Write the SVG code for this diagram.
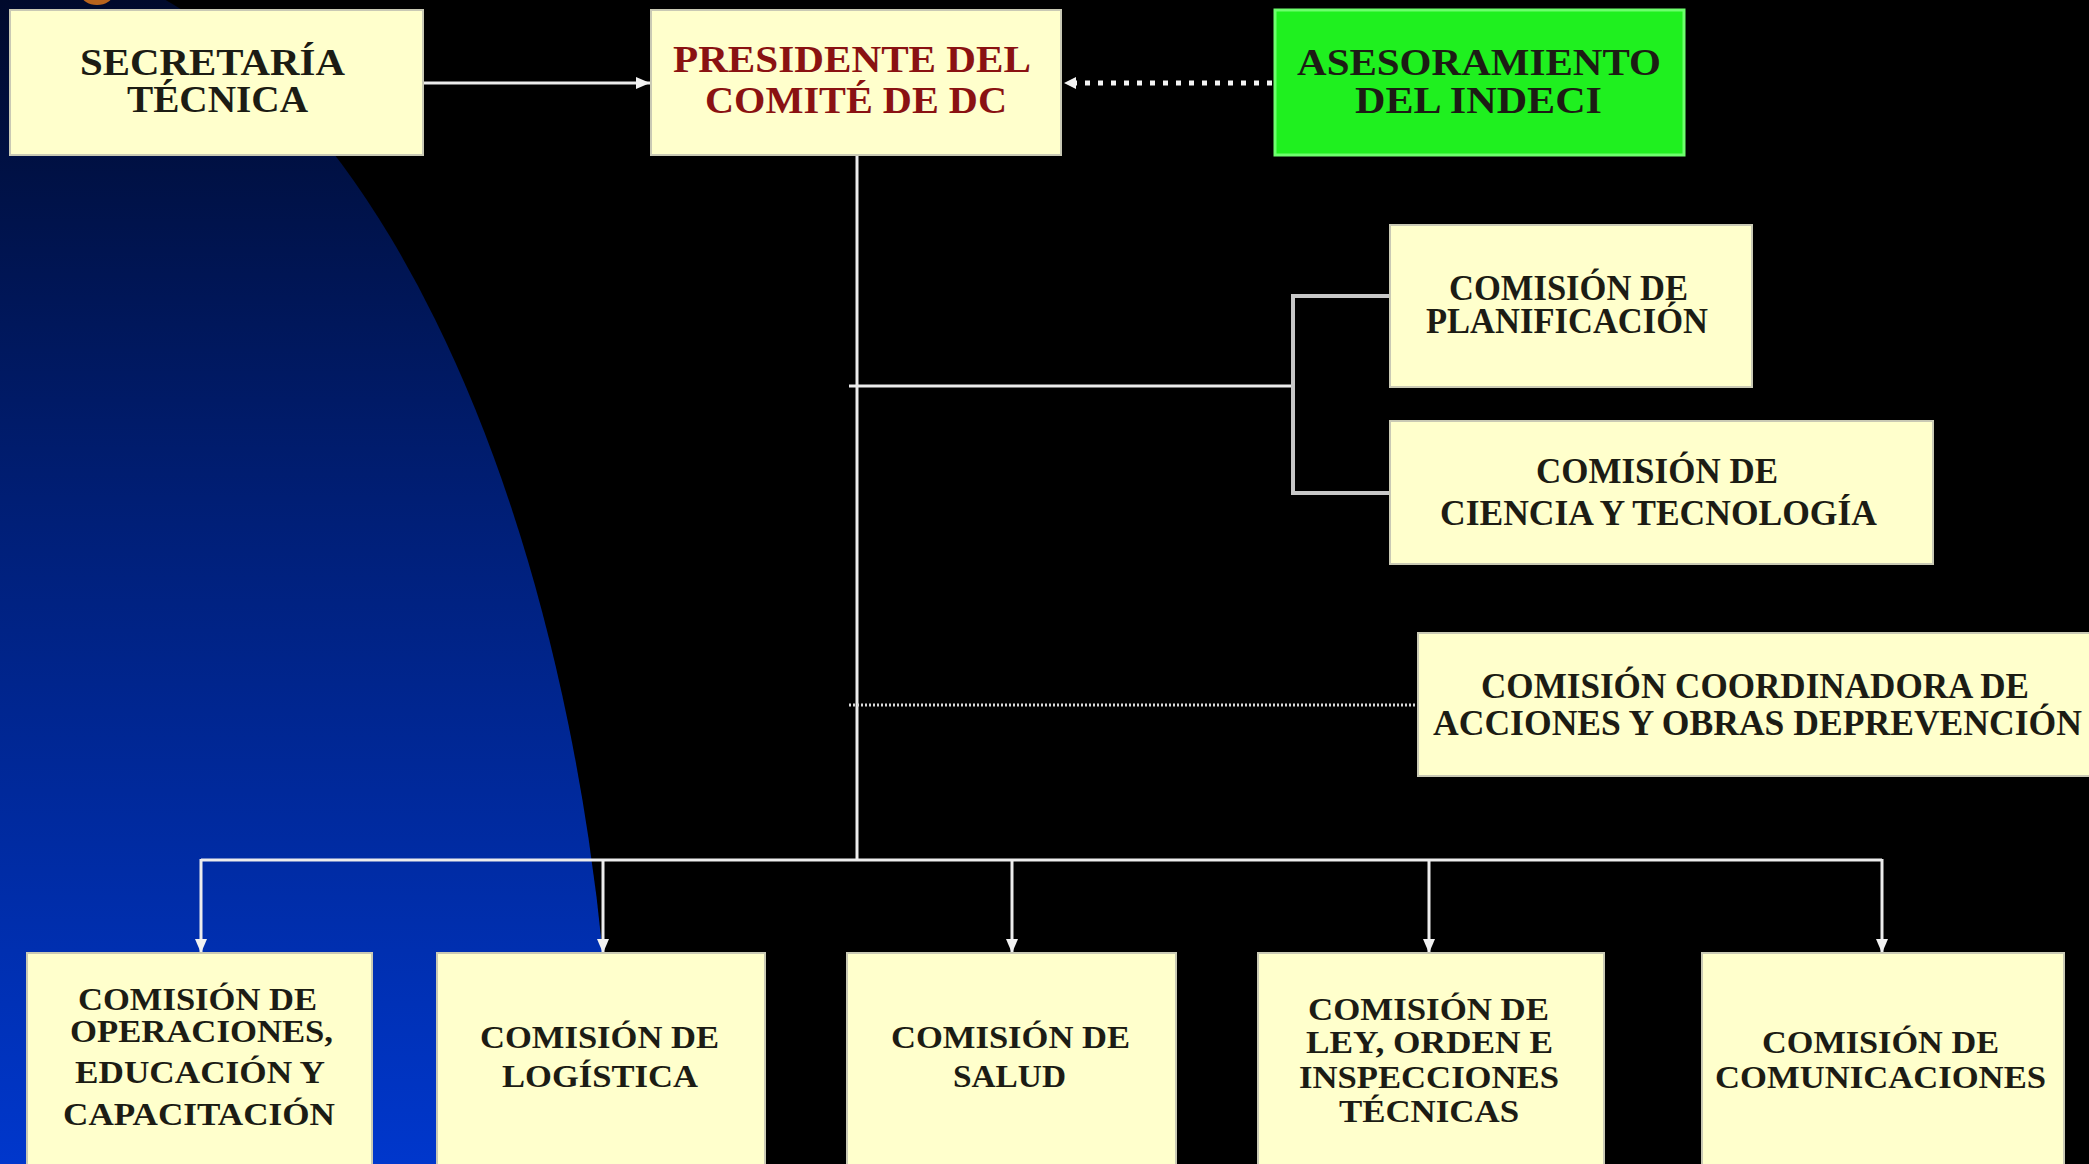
<svg xmlns="http://www.w3.org/2000/svg" width="2089" height="1164" viewBox="0 0 2089 1164">
<defs>
<linearGradient id="blue" x1="0" y1="0" x2="0" y2="1164" gradientUnits="userSpaceOnUse">
<stop offset="0" stop-color="#000a2c"/>
<stop offset="0.45" stop-color="#001f78"/>
<stop offset="1" stop-color="#0037cc"/>
</linearGradient>
<marker id="arr" viewBox="0 0 14 12" refX="14" refY="6" markerWidth="14" markerHeight="12" markerUnits="userSpaceOnUse" orient="auto">
<path d="M0,0 L14,6 L0,12 Z" fill="#f2f2f2"/>
</marker>
<marker id="arrs" viewBox="0 0 12 12" refX="12" refY="6" markerWidth="12" markerHeight="12" markerUnits="userSpaceOnUse" orient="auto">
<path d="M0,0 L12,6 L0,12 Z" fill="#f2f2f2"/>
</marker>
<style>
.box{fill:#ffffcc;stroke:#c9c9b4;stroke-width:2}
.green{fill:#1ff01f;stroke:#6dff6d;stroke-width:3}
.t{font-family:"Liberation Serif","Times New Roman",serif;font-weight:bold;fill:#1c1c14}
.t38{font-size:38px}
.t35{font-size:35px}
.t32{font-size:32px}
.red{fill:#8a1212}
.ln{stroke:#ececec;stroke-width:3;fill:none}
.br{stroke:#c8c8c8;stroke-width:4;fill:none}
.dots{stroke:#f4f4f4;stroke-width:5;fill:none;stroke-dasharray:5 8}
.fine{stroke:#d8d8d8;stroke-width:3;fill:none;stroke-dasharray:2 2}
</style>
</defs>
<rect x="0" y="0" width="2089" height="1164" fill="#000000"/>
<ellipse cx="0" cy="1200" rx="615" ry="1246" fill="url(#blue)"/>
<ellipse cx="97" cy="-6" rx="16" ry="11" fill="#b8641c"/>

<g id="connectors">
<line class="ln" x1="423" y1="83" x2="650" y2="83" marker-end="url(#arr)"/>
<line class="dots" x1="1272" y1="83" x2="1064" y2="83" marker-end="url(#arrs)"/>
<line class="ln" x1="857" y1="155" x2="857" y2="861"/>
<line class="ln" x1="849" y1="386" x2="1293" y2="386"/>
<path class="br" d="M1390,296 H1293 V493 H1390"/>
<line class="fine" x1="849" y1="705" x2="1418" y2="705"/>
<line class="ln" x1="201" y1="860" x2="1882" y2="860"/>
<line class="ln" x1="201" y1="859" x2="201" y2="953" marker-end="url(#arr)"/>
<line class="ln" x1="603" y1="859" x2="603" y2="953" marker-end="url(#arr)"/>
<line class="ln" x1="1012" y1="859" x2="1012" y2="953" marker-end="url(#arr)"/>
<line class="ln" x1="1429" y1="859" x2="1429" y2="953" marker-end="url(#arr)"/>
<line class="ln" x1="1882" y1="859" x2="1882" y2="953" marker-end="url(#arr)"/>
</g>

<g id="secretaria">
<rect class="box" x="10" y="10" width="413" height="145"/>
<text class="t t38" x="80" y="75" textLength="265" lengthAdjust="spacingAndGlyphs">SECRETARÍA</text>
<text class="t t38" x="127" y="112" textLength="181" lengthAdjust="spacingAndGlyphs">TÉCNICA</text>
</g>

<g id="presidente">
<rect class="box" x="651" y="10" width="410" height="145"/>
<text class="t t38 red" x="673" y="72" textLength="358" lengthAdjust="spacingAndGlyphs">PRESIDENTE DEL</text>
<text class="t t38 red" x="705" y="113" textLength="302" lengthAdjust="spacingAndGlyphs">COMITÉ DE DC</text>
</g>

<g id="asesoramiento">
<rect class="green" x="1275" y="10" width="409" height="145"/>
<text class="t t38" x="1297" y="75" textLength="364" lengthAdjust="spacingAndGlyphs">ASESORAMIENTO</text>
<text class="t t38" x="1355" y="113" textLength="247" lengthAdjust="spacingAndGlyphs">DEL INDECI</text>
</g>

<g id="planificacion">
<rect class="box" x="1390" y="225" width="362" height="162"/>
<text class="t t35" x="1449" y="300" textLength="239" lengthAdjust="spacingAndGlyphs">COMISIÓN DE</text>
<text class="t t35" x="1426" y="333" textLength="282" lengthAdjust="spacingAndGlyphs">PLANIFICACIÓN</text>
</g>

<g id="ciencia">
<rect class="box" x="1390" y="421" width="543" height="143"/>
<text class="t t35" x="1536" y="483" textLength="242" lengthAdjust="spacingAndGlyphs">COMISIÓN DE</text>
<text class="t t35" x="1440" y="525" textLength="437" lengthAdjust="spacingAndGlyphs">CIENCIA Y TECNOLOGÍA</text>
</g>

<g id="coordinadora">
<rect class="box" x="1418" y="633" width="680" height="143"/>
<text class="t t35" x="1481" y="698" textLength="548" lengthAdjust="spacingAndGlyphs">COMISIÓN COORDINADORA DE</text>
<text class="t t35" x="1433" y="735" textLength="649" lengthAdjust="spacingAndGlyphs">ACCIONES Y OBRAS DEPREVENCIÓN</text>
</g>

<g id="operaciones">
<rect class="box" x="27" y="953" width="345" height="220"/>
<text class="t t32" x="78" y="1010" textLength="239" lengthAdjust="spacingAndGlyphs">COMISIÓN DE</text>
<text class="t t32" x="70" y="1042" textLength="263" lengthAdjust="spacingAndGlyphs">OPERACIONES,</text>
<text class="t t32" x="75" y="1083" textLength="250" lengthAdjust="spacingAndGlyphs">EDUCACIÓN Y</text>
<text class="t t32" x="63" y="1125" textLength="272" lengthAdjust="spacingAndGlyphs">CAPACITACIÓN</text>
</g>

<g id="logistica">
<rect class="box" x="437" y="953" width="328" height="220"/>
<text class="t t32" x="480" y="1048" textLength="239" lengthAdjust="spacingAndGlyphs">COMISIÓN DE</text>
<text class="t t32" x="502" y="1087" textLength="196" lengthAdjust="spacingAndGlyphs">LOGÍSTICA</text>
</g>

<g id="salud">
<rect class="box" x="847" y="953" width="329" height="220"/>
<text class="t t32" x="891" y="1048" textLength="239" lengthAdjust="spacingAndGlyphs">COMISIÓN DE</text>
<text class="t t32" x="953" y="1087" textLength="113" lengthAdjust="spacingAndGlyphs">SALUD</text>
</g>

<g id="ley">
<rect class="box" x="1258" y="953" width="346" height="220"/>
<text class="t t32" x="1308" y="1020" textLength="241" lengthAdjust="spacingAndGlyphs">COMISIÓN DE</text>
<text class="t t32" x="1306" y="1053" textLength="247" lengthAdjust="spacingAndGlyphs">LEY, ORDEN E</text>
<text class="t t32" x="1299" y="1088" textLength="260" lengthAdjust="spacingAndGlyphs">INSPECCIONES</text>
<text class="t t32" x="1339" y="1122" textLength="180" lengthAdjust="spacingAndGlyphs">TÉCNICAS</text>
</g>

<g id="comunicaciones">
<rect class="box" x="1702" y="953" width="362" height="220"/>
<text class="t t32" x="1762" y="1053" textLength="237" lengthAdjust="spacingAndGlyphs">COMISIÓN DE</text>
<text class="t t32" x="1715" y="1088" textLength="331" lengthAdjust="spacingAndGlyphs">COMUNICACIONES</text>
</g>
</svg>
